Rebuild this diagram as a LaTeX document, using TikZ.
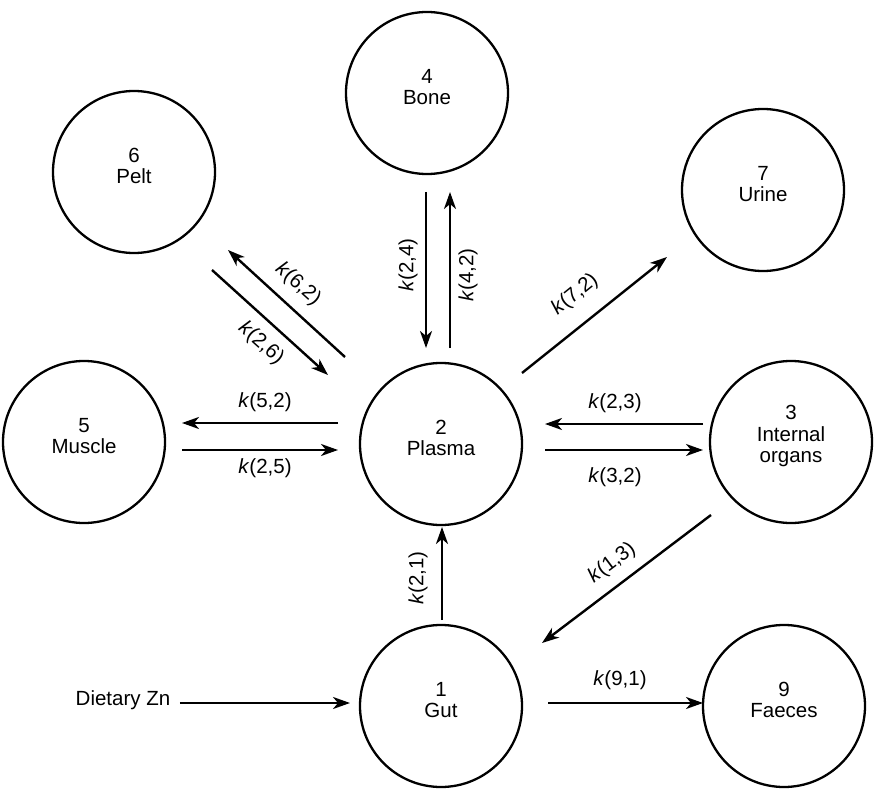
\documentclass[tikz,border=0pt]{standalone}
\usepackage{fontspec}
\setmainfont{Liberation Sans}
\usetikzlibrary{arrows.meta,calc}
\begin{document}
\begin{tikzpicture}[x=1pt,y=-1pt,
  font=\fontsize{20.5}{21.5}\selectfont,
  pool/.style={circle,draw,line width=2.3pt,minimum size=162pt,inner sep=0pt},
  poolname/.style={align=center,yshift=6pt,inner sep=0pt},
  flow/.style={line width=2.4pt,-{Stealth[length=17pt,width=12pt,inset=5pt]}},
  rate/.style={inner sep=1pt}]
\useasboundingbox (0,0) rectangle (884,789);

% compartments
\node[pool,label={[poolname]center:4\\Bone}]   (n4) at (427,93)  {};
\node[pool,label={[poolname]center:6\\Pelt}]   (n6) at (134,172) {};
\node[pool,label={[poolname]center:7\\Urine}]  (n7) at (763,190) {};
\node[pool,label={[poolname]center:5\\Muscle}] (n5) at (84,442)  {};
\node[pool,label={[poolname]center:2\\Plasma}] (n2) at (441,444) {};
\node[pool,label={[poolname]center:3\\Internal\\organs}] (n3) at (791,442) {};
\node[pool,label={[poolname]center:1\\Gut}]    (n1) at (441,706) {};
\node[pool,label={[poolname]center:9\\Faeces}] (n9) at (784,706) {};
\node (diet) at (123,700) {Dietary Zn};

% transfers between compartments
\draw[flow] ($(n4)+(-1,99)$) -- ($(n2)+(-15,-96)$);
\draw[flow] ($(n2)+(9,-96)$) -- ($(n4)+(23,99)$);
\node[rate,rotate=90] at (408,265) {\textit{k}(2,4)};
\node[rate,rotate=90] at (468,275) {\textit{k}(4,2)};

\draw[flow] ($(n2)+(-96,-87)$) -- ($(n6)+(94,78)$);
\draw[flow] ($(n6)+(78,98)$) -- ($(n2)+(-113,-69)$);
\node[rate,rotate=-42] at (298,284) {\textit{k}(6,2)};
\node[rate,rotate=-42] at (261,343) {\textit{k}(2,6)};

\draw[flow] ($(n2)+(-103,-21)$) -- ($(n5)+(98,-19)$);
\draw[flow] ($(n5)+(98,8)$) -- ($(n2)+(-103,6)$);
\node[rate] at (265,402) {\textit{k}(5,2)};
\node[rate] at (265,468) {\textit{k}(2,5)};

\draw[flow] ($(n3)+(-88,-18)$) -- ($(n2)+(104,-20)$);
\draw[flow] ($(n2)+(104,6)$) -- ($(n3)+(-88,8)$);
\node[rate] at (615,403) {\textit{k}(2,3)};
\node[rate] at (615,477) {\textit{k}(3,2)};

\draw[flow] ($(n2)+(81,-71)$) -- ($(n7)+(-96,67)$);
\node[rate,rotate=39] at (575,295) {\textit{k}(7,2)};

\draw[flow] ($(n3)+(-80,73)$) -- ($(n1)+(101,-63)$);
\node[rate,rotate=37] at (612,563) {\textit{k}(1,3)};

\draw[flow] ($(n1)+(1,-86)$) -- ($(n2)+(1,83)$);
\node[rate,rotate=90] at (418,578) {\textit{k}(2,1)};

\draw[flow] ($(n1)+(107,-3)$) -- ($(n9)+(-81,-3)$);
\node[rate] at (620,680) {\textit{k}(9,1)};

\draw[flow] ($(diet.east)+(6,3)$) -- ($(n1)+(-91,-3)$);
\end{tikzpicture}
\end{document}
